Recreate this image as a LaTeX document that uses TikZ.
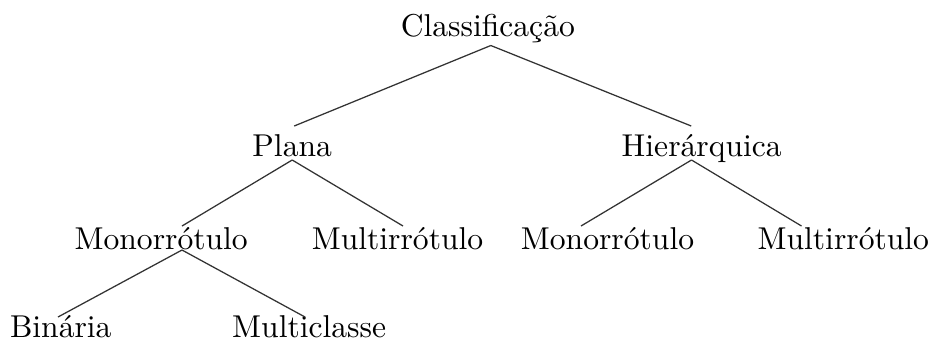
\documentclass[tikz,border=0pt]{standalone}
\usepackage{fontspec}
\begin{document}
\begin{tikzpicture}[x=0.3165pt,y=-0.3165pt,
  lbl/.style={anchor=base,inner sep=0pt,outer sep=0pt},
  edge/.style={draw=black!80,line width=0.4pt}]
\useasboundingbox (0,0) rectangle (934,342);
\node[lbl] (root)  at (487.8,36)  {Classificação};
\node[lbl] (plana) at (292.2,156) {Plana};
\node[lbl] (hier)  at (701.7,156) {Hierárquica};
\node[lbl] (monoL) at (161.2,249.3) {Monorrótulo};
\node[lbl] (multiL) at (397.5,249.3) {Multirrótulo};
\node[lbl] (monoR) at (607.5,249.3) {Monorrótulo};
\node[lbl] (multiR) at (843.3,249.3) {Multirrótulo};
\node[lbl] (bin) at (60.8,337.7) {Binária};
\node[lbl] (mclass) at (309.2,337.7) {Multiclasse};
\draw[edge] ([shift={(3,9.5)}]root.base) -- ([shift={(2,-30)}]plana.base);
\draw[edge] ([shift={(3,9.5)}]root.base) -- ([shift={(-10.5,-30)}]hier.base);
\draw[edge] ([shift={(0,4)}]plana.base) -- ([shift={(20.8,-23.3)}]monoL.base);
\draw[edge] ([shift={(0,4)}]plana.base) -- ([shift={(5.5,-23.3)}]multiL.base);
\draw[edge] ([shift={(-10.2,4)}]hier.base) -- ([shift={(-26.5,-23.3)}]monoR.base);
\draw[edge] ([shift={(-10.2,4)}]hier.base) -- ([shift={(-41.8,-23.3)}]multiR.base);
\draw[edge] ([shift={(20.8,0.7)}]monoL.base) -- ([shift={(-2.8,-20.7)}]bin.base);
\draw[edge] ([shift={(20.8,0.7)}]monoL.base) -- ([shift={(-4.2,-20.7)}]mclass.base);
\end{tikzpicture}
\end{document}
